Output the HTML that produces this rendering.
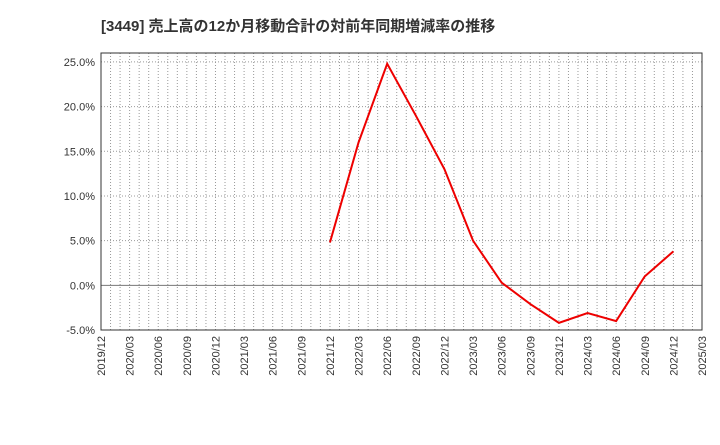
<!DOCTYPE html>
<html><head><meta charset="utf-8"><style>
body{margin:0;background:#fff;font-family:"Liberation Sans","Noto Sans CJK JP",sans-serif;}
</style></head><body>
<svg id="c" width="720" height="440" xmlns="http://www.w3.org/2000/svg">
<text x="101" y="31" font-size="15" font-weight="bold" fill="#333" font-family="Liberation Sans, Noto Sans CJK JP, sans-serif">[3449]  売上高の12か月移動合計の対前年同期増減率の推移</text>
<g id="grid"></g><g id="axes"></g><g id="series"></g>
</svg>
<script>
const categories=["2021/12","2022/03","2022/06","2022/09","2022/12","2023/03","2023/06","2023/09","2023/12","2024/03","2024/06","2024/09","2024/12"];
const values=[4.8,16.0,24.8,19.0,13.0,5.0,0.3,-2.1,-4.2,-3.1,-4.0,1.0,3.8];
const xTicks=["2019/12","2020/03","2020/06","2020/09","2020/12","2021/03","2021/06","2021/09","2021/12","2022/03","2022/06","2022/09","2022/12","2023/03","2023/06","2023/09","2023/12","2024/03","2024/06","2024/09","2024/12","2025/03"];
const yTicks=[25,20,15,10,5,0,-5];
const L=101,R=702,T=53,B=330,yMin=-5,yMax=26;
const NS="http://www.w3.org/2000/svg";
function mIdx(s){const [y,m]=s.split("/").map(Number);return y*12+m;}
const m0=mIdx(xTicks[0]),m1=mIdx(xTicks[xTicks.length-1]);
const x=s=>L+(mIdx(s)-m0)/(m1-m0)*(R-L);
const xm=i=>L+i/(m1-m0)*(R-L);
const y=v=>B-(v-yMin)/(yMax-yMin)*(B-T);
function mk(p,t,a){const e=document.createElementNS(NS,t);for(const k in a)e.setAttribute(k,a[k]);p.appendChild(e);return e;}
const g=document.getElementById("grid"),ax=document.getElementById("axes"),se=document.getElementById("series");
for(let i=1;i<m1-m0;i++){const l=mk(g,"line",{x1:xm(i),x2:xm(i),y1:T,y2:B,stroke:"#999","stroke-dasharray":"1,2","stroke-width":1});

}
yTicks.forEach(v=>{const l=mk(g,"line",{x1:L,x2:R,y1:y(v),y2:y(v),stroke:v===0?"#777":"#999","stroke-dasharray":v===0?"":"1,2","stroke-width":1});


const t=mk(ax,"text",{x:L-6,y:y(v)+4,"text-anchor":"end","font-size":11,fill:"#333"});t.textContent=v.toFixed(1)+"%";

});
xTicks.forEach(s=>{const xx=x(s);const t=mk(ax,"text",{x:0,y:0,transform:`translate(${xx+4},${B+6}) rotate(-90)`,"text-anchor":"end","font-size":11,fill:"#333"});t.textContent=s;

});
const fr=mk(ax,"rect",{x:L,y:T,width:R-L,height:B-T,fill:"none",stroke:"#333","stroke-width":1});


const pl=mk(se,"polyline",{points:categories.map((c,i)=>x(c)+","+y(values[i])).join(" "),fill:"none",stroke:"#e00",  "stroke-width":2});


</script>
</body></html>
